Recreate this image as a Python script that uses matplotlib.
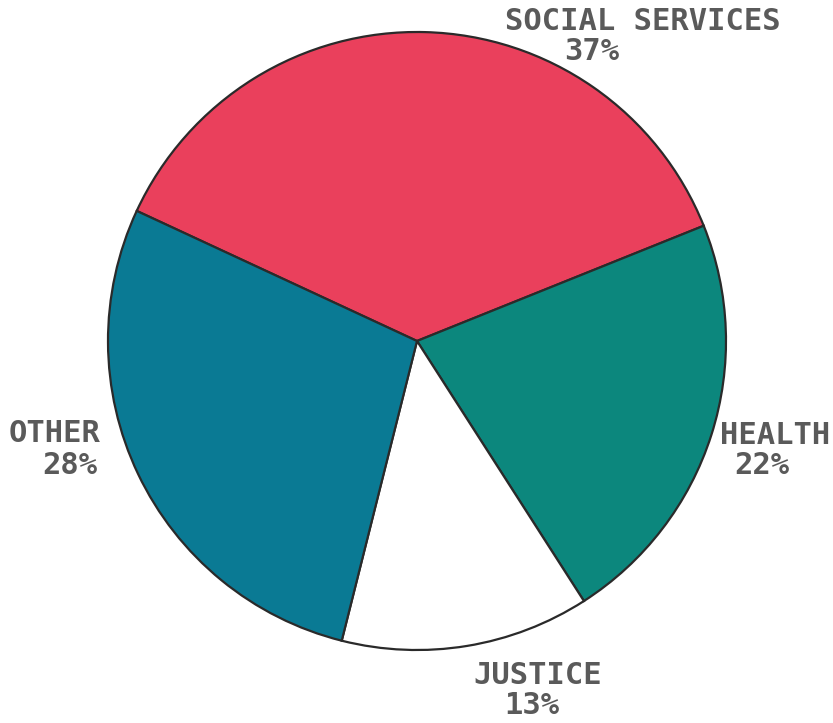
import matplotlib
matplotlib.use("Agg")
import matplotlib.pyplot as plt

# Budget shares by sector (percent)
categories = ["SOCIAL SERVICES", "HEALTH", "JUSTICE", "OTHER"]
shares = [37, 22, 13, 28]
colors = ["#ea405c", "#0c877d", "#ffffff", "#0a7a94"]

W, H = 833, 723
fig = plt.figure(figsize=(W / 100, H / 100), dpi=100)
ax = fig.add_axes([0, 0, 1, 1])

wedges, _ = ax.pie(
    shares,
    colors=colors,
    startangle=155.1,
    counterclock=False,
    center=(417, H - 341),
    radius=309,
    wedgeprops=dict(edgecolor="#2a2a2a", linewidth=1.6),
)
ax.set_xlim(0, W)
ax.set_ylim(0, H)
ax.set_aspect("equal")
ax.axis("off")

font = dict(family="DejaVu Sans Mono", fontweight="bold", fontsize=22,
            color="#5a5a5a", ha="center", va="center")

# Category name and share, placed around the pie
label_pos = {
    "SOCIAL SERVICES": ((643, H - 22), (592, H - 52)),
    "HEALTH": ((775, H - 435), (762, H - 466)),
    "JUSTICE": ((538, H - 675), (532, H - 706)),
    "OTHER": ((55, H - 433), (70, H - 465)),
}
for name, pct in zip(categories, shares):
    (nx, ny), (px, py) = label_pos[name]
    ax.text(nx, ny, name, **font)
    ax.text(px, py, f"{pct}%", **font)

fig.savefig("out.png", dpi=100)
